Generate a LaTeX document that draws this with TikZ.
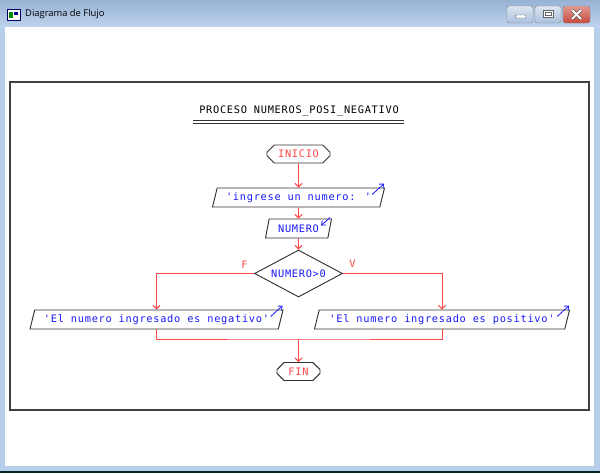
\documentclass[tikz,border=0pt]{standalone}
\usepackage{fontspec}
\newfontfamily\flujo[LetterSpace=7]{DejaVu Sans Mono}
\newfontfamily\ventana{Open Sans}
\usepackage{xcolor}
\usetikzlibrary{shapes,arrows.meta,positioning,calc}

\definecolor{rojoflujo}{RGB}{255,70,70}
\definecolor{azultexto}{RGB}{25,25,250}
\definecolor{marco}{RGB}{184,207,235}
\definecolor{barraalta}{RGB}{152,178,212}
\definecolor{barrabaja}{RGB}{190,212,238}
\definecolor{boton}{RGB}{170,192,222}
\definecolor{botoncerrar}{RGB}{200,72,58}

\begin{document}
\begin{tikzpicture}[x=0.03cm, y=-0.03cm,
    texto/.style={font=\flujo\fontsize{8.8}{10}\selectfont},
    terminal/.style={chamfered rectangle, chamfered rectangle xsep=4pt,
        draw=black!80, line width=0.8pt, texto, text=rojoflujo,
        minimum height=0.54cm, inner sep=0pt},
    datos/.style={trapezium, trapezium left angle=65, trapezium right angle=115,
        trapezium stretches body, draw=black!80, line width=0.8pt, texto, text=azultexto,
        minimum height=0.57cm, inner sep=0pt},
    decision/.style={diamond, aspect=2, draw=black!80, line width=0.8pt, texto, text=azultexto,
        minimum width=2.64cm, minimum height=1.41cm, inner sep=0pt},
    linea/.style={draw=rojoflujo, line width=0.8pt},
    flecha/.style={linea, -{Straight Barb[length=3pt,width=6pt]}},
    flechita/.style={draw=azultexto, line width=0.7pt, -{Straight Barb[length=3pt,width=5pt]}},
    etiqueta/.style={texto, text=rojoflujo}]

    % Ventana
    \fill[marco] (0,0) rectangle (600,473);
    \shade[top color=barraalta, bottom color=barrabaja] (0,0) rectangle (600,27);
    \fill[white] (5,27) rectangle (594,466);
    \fill[black!70!teal] (0,471) rectangle (600,473);
    \fill[white] (7,9) rectangle (20,20);
    \draw[blue!40!black, line width=0.5pt] (7,9) rectangle (20,20);
    \fill[green!55!black] (9,12) rectangle (13,18);
    \fill[blue!60!black] (14,12) rectangle (18,15);
    \node[font=\ventana\fontsize{8}{10}\selectfont, anchor=west, inner sep=0pt] (nombre) at (25,14) {Diagrama de Flujo};

    % Botones
    \shade[top color=white!60!boton, bottom color=boton, draw=black!45, rounded corners=2pt] (507,6) rectangle (533,23);
    \shade[top color=white!60!boton, bottom color=boton, draw=black!45, rounded corners=2pt] (535,6) rectangle (561,23);
    \shade[top color=white!45!botoncerrar, bottom color=botoncerrar, draw=black!50, rounded corners=2pt] (563,6) rectangle (590,23);
    \draw[black!60, fill=white, rounded corners=1pt] (515,15) rectangle (526,18);
    \draw[black!60, fill=white] (543,10) rectangle (553,17);
    \draw[black!60, line width=0.3pt] (545,12.5) rectangle (551,15);
    \draw[black!70, line width=2.6pt] (572,10) -- (581,19) (581,10) -- (572,19);
    \draw[white, line width=1.6pt] (572,10) -- (581,19) (581,10) -- (572,19);

    % Marco del diagrama
    \draw[black!75, line width=0.9pt] (10,82) rectangle (589,410);

    % Titulo
    \node[texto, inner sep=0pt] (titulo) at (299,111) {PROCESO NUMEROS\_POSI\_NEGATIVO};
    \draw[black!80, line width=0.6pt] (193,120) -- (404,120) (193,123) -- (404,123);

    % Bloques
    \node[terminal, minimum width=1.89cm] (inicio) at (298.5,154) {INICIO};
    \node[datos, minimum width=5.16cm] (ingreso) at (298.5,197.5) {'ingrese un numero: '};
    \node[datos, minimum width=1.98cm] (numero) at (298.5,228.5) {NUMERO};
    \node[decision] (cond) at (298.5,273.5) {NUMERO>0};
    \node[datos, minimum width=7.59cm] (negativo) at (156.5,319.5) {'El numero ingresado es negativo'};
    \node[datos, minimum width=7.65cm] (positivo) at (442,319.5) {'El numero ingresado es positivo'};
    \coordinate (union) at (298.5,339);
    \node[terminal, minimum width=1.29cm] (fin) at (298.5,371.5) {FIN};

    % Etiquetas
    \node[etiqueta] (falso) at ($(cond.west)+(-9.5,-8.5)$) {F};
    \node[etiqueta] (verdad) at ($(cond.east)+(9.5,-9.5)$) {V};

    % Conectores
    \draw[flecha] (inicio) -- (ingreso);
    \draw[flecha] (ingreso) -- (numero);
    \draw[flecha] (numero) -- (cond);
    \draw[flecha] (cond.west) -| (negativo.north);
    \draw[flecha] (cond.east) -| (positivo.north);
    \draw[linea] (negativo.south) |- (union) -| (positivo.south);
    \draw[flecha] (union) -- (fin);

    % Salida y entrada
    \draw[flechita] ($(ingreso.top right corner)+(-13,7)$) -- ($(ingreso.top right corner)+(-1,-4)$);
    \draw[flechita] ($(numero.top right corner)+(-2,-1)$) -- ($(numero.top right corner)+(-11,7)$);
    \draw[flechita] ($(negativo.top right corner)+(-13,7)$) -- ($(negativo.top right corner)+(-1,-4)$);
    \draw[flechita] ($(positivo.top right corner)+(-13,7)$) -- ($(positivo.top right corner)+(-1,-4)$);
\end{tikzpicture}
\end{document}
